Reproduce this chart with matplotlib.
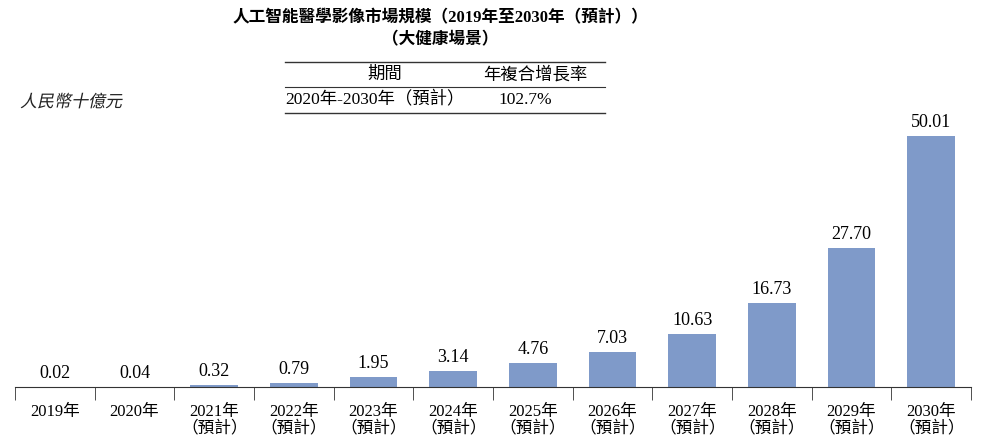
import matplotlib
matplotlib.use("Agg")
import matplotlib.pyplot as plt
from matplotlib.textpath import TextPath
from matplotlib.patches import PathPatch
from matplotlib.font_manager import FontProperties
from matplotlib.transforms import Affine2D, IdentityTransform
import numpy as np

plt.rcParams['font.family'] = ['Liberation Serif', 'Noto Sans CJK TC']

years = ['2019年', '2020年', '2021年', '2022年', '2023年', '2024年',
         '2025年', '2026年', '2027年', '2028年', '2029年', '2030年']
values = [0.02, 0.04, 0.32, 0.79, 1.95, 3.14, 4.76, 7.03, 10.63, 16.73, 27.70, 50.01]
forecast = [False, False] + [True] * 10

W, H = 983, 448
fig = plt.figure(figsize=(W / 100, H / 100), dpi=100)
ax = fig.add_axes([15 / W, 61 / H, 956 / W, 301 / H])

x = np.arange(len(years))
ax.bar(x, values, width=0.6, color='#7f9ac9')
for xi, v in zip(x, values):
    ax.text(xi, v + 1.0, f'{v:.2f}', ha='center', va='bottom', fontsize=13)

ax.set_xlim(-0.5, len(years) - 0.5)
ax.set_ylim(0, 60)
for s in ['top', 'right', 'left']:
    ax.spines[s].set_visible(False)
ax.spines['bottom'].set_color('#333333')
ax.set_yticks([])
labels = [y + ('\n（預計）' if f else '') for y, f in zip(years, forecast)]
ax.set_xticks(x)
ax.set_xticklabels(labels, fontsize=12, va='top', linespacing=1.05)
ax.tick_params(axis='x', length=0, pad=12)
ax.set_xticks(np.arange(-0.5, len(years), 1), minor=True)
ax.tick_params(axis='x', which='minor', length=9, color='#333333')

fig.text(440 / W, 1 - 18 / H, '人工智能醫學影像市場規模（2019年至2030年（預計））',
         ha='center', va='center', fontsize=12, fontweight='bold')
fig.text(440 / W, 1 - 40 / H, '（大健康場景）', ha='center', va='center',
         fontsize=12, fontweight='bold')

for yy, lw in [(62, 1.0), (87, 0.8), (113, 1.0)]:
    fig.add_artist(plt.Line2D([285 / W, 605 / W], [1 - yy / H] * 2, color='#333333', lw=lw))
fig.text(385 / W, 1 - 75 / H, '期間', ha='center', va='center', fontsize=12.5)
fig.text(535 / W, 1 - 75 / H, '年複合增長率', ha='center', va='center', fontsize=12.5)
fig.text(375 / W, 1 - 100 / H, '2020年-2030年（預計）', ha='center', va='center', fontsize=12.5)
fig.text(525 / W, 1 - 100 / H, '102.7%', ha='center', va='center', fontsize=12.5)

# slanted unit label (the CJK font has no italic face), drawn in pixel coords
unit_fp = FontProperties(family='Noto Sans CJK TC', weight='light')
tp = TextPath((0, 0), '人民幣十億元', size=17, prop=unit_fp)
tr = Affine2D().skew_deg(12, 0).translate(20, H - 107)
fig.add_artist(PathPatch(tr.transform_path(tp), facecolor='#222222', edgecolor='none',
                         transform=IdentityTransform()))

fig.savefig('out.png', dpi=100)
